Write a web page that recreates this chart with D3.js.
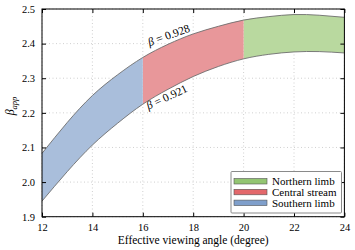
<!DOCTYPE html>
<html>
<head>
<meta charset="utf-8">
<script src="https://cdn.jsdelivr.net/npm/d3@7"></script>
<style>
  body { margin: 0; background: #fff; }
  svg { display: block; }
  svg text { font-family: "Liberation Serif", "DejaVu Serif", "Times New Roman", serif; fill: #000; }
</style>
</head>
<body>
<div id="chart"></div>
<script>
// viewing angle (deg) and apparent speed on the two bounding curves
var angles = [12, 13, 14, 15, 16, 17, 18, 19, 20, 21, 22, 23, 24];
var upperBeta = [2.083, 2.172, 2.250, 2.310, 2.360, 2.398, 2.428, 2.450, 2.468, 2.478, 2.484, 2.482, 2.476];
var lowerBeta = [1.945, 2.030, 2.107, 2.170, 2.225, 2.268, 2.305, 2.334, 2.356, 2.369, 2.376, 2.377, 2.373];

var regionNames = ["Northern limb", "Central stream", "Southern limb"];
var regionFrom = [20, 16, 12];
var regionTo = [24, 20, 16];
var bandColors = ["#b9d99f", "#e8979a", "#a9bedb"];
var legendColors = ["#93c572", "#e3686b", "#7f9fcb"];

var xTicks = [12, 14, 16, 18, 20, 22, 24];
var yTicks = [1.9, 2.0, 2.1, 2.2, 2.3, 2.4, 2.5];

var data = angles.map(function(a, i) {
  return { a: a, hi: upperBeta[i], lo: lowerBeta[i] };
});

var W = 355, H = 250;
var margin = { top: 9, right: 10.6, bottom: 33.3, left: 42 };
var width = W - margin.left - margin.right,
    height = H - margin.top - margin.bottom;
var FONT = "'Liberation Serif', 'DejaVu Serif', serif";

var svg = d3.select("#chart").append("svg")
  .attr("width", W).attr("height", H);
var g = svg.append("g")
  .attr("transform", "translate(" + margin.left + "," + margin.top + ")");

var x = d3.scaleLinear().domain([12, 24]).range([0, width]);
var y = d3.scaleLinear().domain([1.9, 2.5]).range([height, 0]);

// grid
g.append("g").selectAll("line").data(xTicks).enter().append("line")
  .attr("x1", function(d) { return x(d); }).attr("x2", function(d) { return x(d); })
  .attr("y1", 0).attr("y2", height)
  .attr("stroke", "#c4c4c4").attr("stroke-width", 0.8).attr("stroke-dasharray", "1,2.5");
g.append("g").selectAll("line").data(yTicks).enter().append("line")
  .attr("y1", function(d) { return y(d); }).attr("y2", function(d) { return y(d); })
  .attr("x1", 0).attr("x2", width)
  .attr("stroke", "#c4c4c4").attr("stroke-width", 0.8).attr("stroke-dasharray", "1,2.5");

// band, coloured by region through clip rects
var area = d3.area()
  .x(function(d) { return x(d.a); })
  .y0(function(d) { return y(d.lo); })
  .y1(function(d) { return y(d.hi); })
  .curve(d3.curveNatural);

var defs = svg.append("defs");
regionNames.forEach(function(name, i) {
  defs.append("clipPath").attr("id", "clip" + i)
    .append("rect")
    .attr("x", x(regionFrom[i])).attr("y", -5)
    .attr("width", x(regionTo[i]) - x(regionFrom[i])).attr("height", height + 10);
  g.append("path").datum(data)
    .attr("d", area)
    .attr("fill", bandColors[i])
    .attr("clip-path", "url(#clip" + i + ")");
});

var lineHi = d3.line().x(function(d) { return x(d.a); }).y(function(d) { return y(d.hi); }).curve(d3.curveNatural);
var lineLo = d3.line().x(function(d) { return x(d.a); }).y(function(d) { return y(d.lo); }).curve(d3.curveNatural);
g.append("path").datum(data).attr("d", lineHi).attr("fill", "none").attr("stroke", "#6e6e6e").attr("stroke-width", 0.9);
g.append("path").datum(data).attr("d", lineLo).attr("fill", "none").attr("stroke", "#6e6e6e").attr("stroke-width", 0.9);

// curve labels
function curveLabel(xv, yv, rot, txt) {
  var t = g.append("text")
    .attr("transform", "translate(" + x(xv) + "," + y(yv) + ") rotate(" + rot + ")")
    .attr("text-anchor", "middle")
    .attr("dy", "0.35em")
    .style("font-family", FONT)
    .style("font-size", "11.5px");
  t.append("tspan").style("font-style", "italic").text("β");
  t.append("tspan").text(" = " + txt);
}
curveLabel(17.03, 2.425, -20, "0.928");
curveLabel(16.95, 2.246, -25, "0.921");

// axes with inward ticks on all sides
function styleAxis(sel) {
  sel.attr("font-family", null);
  sel.select(".domain").remove();
  sel.selectAll(".tick line").attr("stroke", "#000").attr("stroke-width", 1);
  sel.selectAll("text").style("font-size", "10.5px").style("font-family", FONT);
}
g.append("g").attr("transform", "translate(0," + height + ")")
  .call(d3.axisBottom(x).tickValues(xTicks).tickSize(-4).tickPadding(7).tickFormat(d3.format("d")))
  .call(styleAxis);
g.append("g")
  .call(d3.axisTop(x).tickValues(xTicks).tickSize(-4).tickFormat(""))
  .call(styleAxis);
g.append("g")
  .call(d3.axisLeft(y).tickValues(yTicks).tickSize(-4).tickPadding(7).tickFormat(d3.format(".1f")))
  .call(styleAxis);
g.append("g").attr("transform", "translate(" + width + ",0)")
  .call(d3.axisRight(y).tickValues(yTicks).tickSize(-4).tickFormat(""))
  .call(styleAxis);

g.append("rect").attr("width", width).attr("height", height)
  .attr("fill", "none").attr("stroke", "#000").attr("stroke-width", 1);

// axis titles
svg.append("text")
  .attr("x", margin.left + width / 2).attr("y", 243.5)
  .attr("text-anchor", "middle").style("font-size", "11.5px").style("font-family", FONT)
  .text("Effective viewing angle (degree)");

var yl = svg.append("text")
  .attr("transform", "translate(14,106) rotate(-90)")
  .attr("text-anchor", "middle").style("font-size", "12px").style("font-family", FONT);
yl.append("tspan").style("font-style", "italic").text("β");
yl.append("tspan").style("font-style", "italic").style("font-size", "8.5px").attr("dy", "3").text("app");

// legend
var lg = svg.append("g").attr("transform", "translate(231,171.5)");
lg.append("rect").attr("width", 110.5).attr("height", 41.5)
  .attr("fill", "#fff").attr("stroke", "#8a8a8a").attr("stroke-width", 1).attr("rx", 1);
regionNames.forEach(function(name, i) {
  var row = lg.append("g").attr("transform", "translate(3," + (7 + i * 10.8) + ")");
  row.append("rect").attr("width", 33).attr("height", 5.5)
    .attr("fill", legendColors[i]).attr("stroke", "#555").attr("stroke-width", 0.6);
  row.append("text").attr("x", 38).attr("y", 2.9).attr("dy", "0.35em")
    .style("font-size", "11px").style("font-family", FONT).text(name);
});
</script>
</body>
</html>
